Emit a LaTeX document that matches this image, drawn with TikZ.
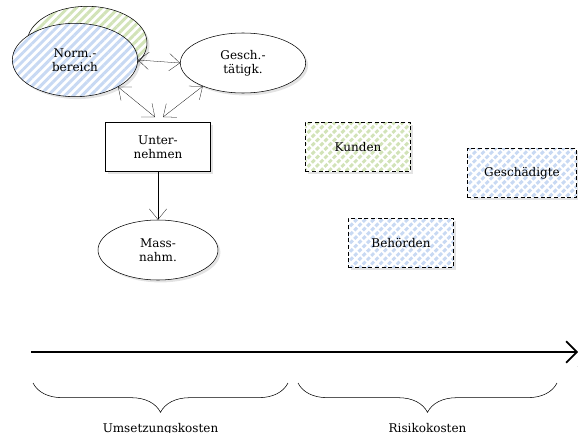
\documentclass[tikz,border=0pt]{standalone}
\usepackage{fontspec}
\setmainfont{DejaVu Serif}
\usetikzlibrary{arrows.meta,positioning,shapes.geometric,shadows,patterns.meta,decorations.pathreplacing}
\definecolor{stakeblue}{RGB}{200,217,243}
\definecolor{stakegreen}{RGB}{210,227,184}

\tikzset{
  shady/.style={drop shadow={shadow xshift=1.8pt,shadow yshift=-1.8pt,opacity=.22}},
  oval/.style={ellipse,draw,fill=white,shady,align=center,inner sep=1pt},
  hatched/.style={preaction={fill=white},pattern={Lines[angle=45,distance=4.5pt,line width=2.2pt]},pattern color=#1},
  party/.style={draw,densely dashed,shady,hatched=#1,minimum width=79pt,minimum height=37pt},
  barb/.style={{Straight Barb[length=8pt,width=13pt]}-{Straight Barb[length=8pt,width=13pt]}}
}

\begin{document}
\begin{tikzpicture}[x=0.75pt,y=-0.75pt,font=\fontsize{9}{10.5}\selectfont,>={Straight Barb[length=8pt,width=13pt]}]
\useasboundingbox (0,0) rectangle (578,432);

% Akteure links
\node(normback)[oval,hatched=stakegreen,minimum width=90pt,minimum height=55pt] at (87,43){};
\node(norm)[oval,hatched=stakeblue,minimum width=94pt,minimum height=55pt] at (75,60){Norm.-\\bereich};
\node(gesch)[oval,minimum width=94pt,minimum height=45pt] at (243,63){Gesch.-\\tätigk.};
\node(firm)[draw,fill=white,shady,align=center,minimum width=79pt,minimum height=37pt] at (158,147){Unter-\\nehmen};
\node(mass)[oval,minimum width=90pt,minimum height=45pt] at (158,250){Mass-\\nahm.};

\draw[barb,very thin] (norm.east|-0,60) -- (gesch.west);
\draw[barb,very thin] (norm.-32) -- ([shift={(-3,-5)}]firm.north);
\draw[barb,very thin] (gesch.-150) -- ([shift={(5,-5)}]firm.north);
\draw[->,very thin] (firm) -- (mass);

% Stakeholder rechts
\node(kunden)[party=stakegreen] at (358,147){Kunden};
\node(opfer)[party=stakeblue,minimum width=82pt] at (522,173){Geschädigte};
\node(amt)[party=stakeblue] at (401,243){Behörden};

% Zeitachse
\coordinate(t0) at (31,352);
\coordinate(t1) at (578,352);
\draw[->,line width=1.3pt,>={Straight Barb[length=8pt,width=16pt]}] (t0) -- (t1);
\node(tlabel)[font=\fontsize{4}{4}\selectfont,anchor=north east,inner sep=0pt] at (580,366){t};

\draw[decorate,decoration={brace,amplitude=22pt}] (288,383) -- node[below=27pt](umsetz){Umsetzungskosten} (33,383);
\draw[decorate,decoration={brace,amplitude=22pt}] (557,383) -- node[below=27pt](risiko){Risikokosten} (298,383);
\end{tikzpicture}
\end{document}
